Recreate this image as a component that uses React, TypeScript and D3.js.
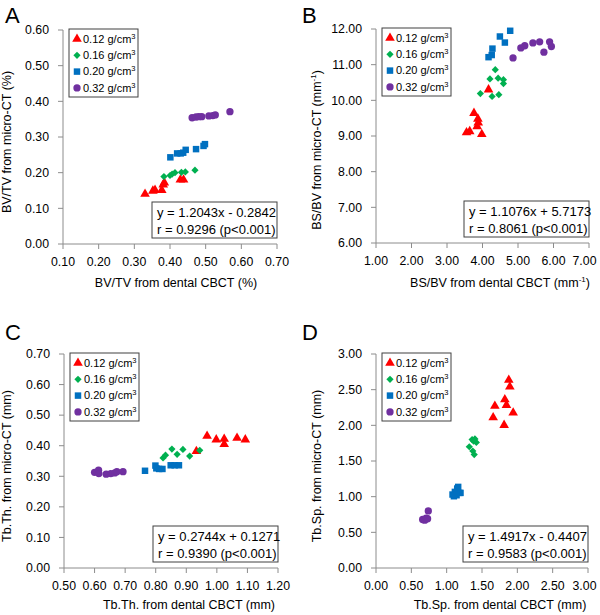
import React from "react";
import * as d3 from "d3";

const groupLabels = ["0.12 g/cm", "0.16 g/cm", "0.20 g/cm", "0.32 g/cm"];
const groupColors = ["#ff0000", "#00b050", "#0070c0", "#7030a0"];
const groupShapes = ["triangle", "diamond", "square", "circle"];

// Panel A: BV/TV
const aRed = [[0.330, 0.140], [0.352, 0.149], [0.358, 0.151], [0.377, 0.151], [0.381, 0.166], [0.384, 0.172], [0.429, 0.180], [0.438, 0.180]];
const aGreen = [[0.383, 0.189], [0.400, 0.192], [0.406, 0.196], [0.414, 0.200], [0.432, 0.201], [0.443, 0.202], [0.470, 0.207]];
const aBlue = [[0.401, 0.243], [0.420, 0.254], [0.430, 0.254], [0.437, 0.256], [0.444, 0.264], [0.473, 0.266], [0.494, 0.275], [0.498, 0.280]];
const aPurple = [[0.462, 0.354], [0.473, 0.356], [0.481, 0.357], [0.489, 0.357], [0.509, 0.359], [0.520, 0.360], [0.527, 0.362], [0.568, 0.371]];

// Panel B: BS/BV
const bRed = [[3.76, 9.64], [3.87, 9.48], [3.88, 9.37], [3.85, 9.27], [3.55, 9.10], [3.64, 9.13], [3.98, 9.05], [4.17, 10.30]];
const bGreen = [[3.94, 10.19], [4.21, 10.60], [4.36, 10.86], [4.44, 10.62], [4.59, 10.58], [4.59, 10.47], [4.27, 10.11], [4.46, 10.16]];
const bBlue = [[4.78, 11.95], [4.49, 11.79], [4.63, 11.62], [4.28, 11.45], [4.26, 11.27], [4.17, 11.21]];
const bPurple = [[4.86, 11.19], [5.08, 11.47], [5.19, 11.53], [5.42, 11.61], [5.61, 11.64], [5.73, 11.35], [5.89, 11.64], [5.94, 11.51]];

// Panel C: Tb.Th.
const cRed = [[0.933, 0.382], [0.968, 0.432], [0.998, 0.420], [1.024, 0.422], [1.024, 0.405], [1.066, 0.425], [1.093, 0.420]];
const cGreen = [[0.824, 0.360], [0.832, 0.369], [0.853, 0.389], [0.870, 0.372], [0.889, 0.388], [0.911, 0.366], [0.944, 0.385]];
const cBlue = [[0.765, 0.318], [0.799, 0.335], [0.802, 0.326], [0.811, 0.324], [0.822, 0.324], [0.849, 0.336], [0.862, 0.336], [0.876, 0.336]];
const cPurple = [[0.600, 0.313], [0.613, 0.320], [0.614, 0.309], [0.638, 0.307], [0.653, 0.309], [0.666, 0.311], [0.673, 0.315], [0.693, 0.315]];

// Panel D: Tb.Sp.
const dRed = [[1.879, 2.635], [1.894, 2.541], [1.682, 2.270], [1.823, 2.363], [1.846, 2.283], [1.941, 2.176], [1.658, 2.110], [1.813, 2.003]];
const dGreen = [[1.32, 1.70], [1.36, 1.80], [1.40, 1.81], [1.42, 1.76], [1.37, 1.64], [1.39, 1.59], [1.38, 1.78]];
const dBlue = [[1.083, 1.03], [1.116, 1.067], [1.149, 1.114], [1.178, 1.053], [1.196, 1.053], [1.102, 1.006], [1.140, 1.02], [1.163, 1.137]];
const dPurple = [[0.66, 0.68], [0.69, 0.67], [0.71, 0.70], [0.73, 0.69], [0.74, 0.80]];

const aXTicks = [0.1, 0.2, 0.3, 0.4, 0.5, 0.6, 0.7];
const aYTicks = [0, 0.1, 0.2, 0.3, 0.4, 0.5, 0.6];
const bXTicks = [1, 2, 3, 4, 5, 6, 7];
const bYTicks = [6, 7, 8, 9, 10, 11, 12];
const cXTicks = [0.5, 0.6, 0.7, 0.8, 0.9, 1.0, 1.1, 1.2];
const cYTicks = [0, 0.1, 0.2, 0.3, 0.4, 0.5, 0.6, 0.7];
const dXTicks = [0, 0.5, 1, 1.5, 2, 2.5, 3];
const dYTicks = [0, 0.5, 1, 1.5, 2, 2.5, 3];

const panels = [
  {
    letter: "A", series: [aRed, aGreen, aBlue, aPurple], xTicks: aXTicks, yTicks: aYTicks,
    xTitle: "BV/TV from dental CBCT (%)", xSup: "", xTail: "", yTitle: "BV/TV from micro-CT (%)", ySup: "", yTail: "",
    eq: "y = 1.2043x - 0.2842", r: "r = 0.9296 (p<0.001)",
    left: 63, top: 30, w: 214, h: 214, letterX: 5, letterY: 23,
    xTitleX: 176, xTitleY: 287, yTitleX: 11, yTitleY: 142,
  },
  {
    letter: "B", series: [bRed, bGreen, bBlue, bPurple], xTicks: bXTicks, yTicks: bYTicks,
    xTitle: "BS/BV from dental CBCT (mm", xSup: "-1", xTail: ")", yTitle: "BS/BV from micro-CT (mm", ySup: "-1", yTail: ")",
    eq: "y = 1.1076x + 5.7173", r: "r = 0.8061 (p<0.001)",
    left: 376, top: 29, w: 213, h: 214, letterX: 302, letterY: 23,
    xTitleX: 500, xTitleY: 287, yTitleX: 321, yTitleY: 150,
  },
  {
    letter: "C", series: [cRed, cGreen, cBlue, cPurple], xTicks: cXTicks, yTicks: cYTicks,
    xTitle: "Tb.Th. from dental CBCT (mm)", xSup: "", xTail: "", yTitle: "Tb.Th. from micro-CT (mm)", ySup: "", yTail: "",
    eq: "y = 0.2744x + 0.1271", r: "r = 0.9390 (p<0.001)",
    left: 64, top: 354, w: 214, h: 214, letterX: 5, letterY: 340,
    xTitleX: 189, xTitleY: 609, yTitleX: 11, yTitleY: 466,
  },
  {
    letter: "D", series: [dRed, dGreen, dBlue, dPurple], xTicks: dXTicks, yTicks: dYTicks,
    xTitle: "Tb.Sp. from dental CBCT (mm)", xSup: "", xTail: "", yTitle: "Tb.Sp. from micro-CT (mm)", ySup: "", yTail: "",
    eq: "y = 1.4917x - 0.4407", r: "r = 0.9583 (p<0.001)",
    left: 376, top: 354, w: 212, h: 214, letterX: 302, letterY: 340,
    xTitleX: 500, xTitleY: 609, yTitleX: 321, yTitleY: 466,
  },
];

const FONT = "'Liberation Sans', Arial, sans-serif";
const AXIS = "#8c8c8c";
const fmt = d3.format(".2f");
const TICK_FS = 12.3;

function Marker({ shape, x, y, color }: { shape: string; x: number; y: number; color: string }) {
  let path = "";
  let rot = 0;
  if (shape === "triangle") path = d3.symbol().type(d3.symbolTriangle).size(40)()!;
  else if (shape === "diamond") { path = d3.symbol().type(d3.symbolSquare).size(26)()!; rot = 45; }
  else if (shape === "square") path = d3.symbol().type(d3.symbolSquare).size(42)()!;
  else path = d3.symbol().type(d3.symbolCircle).size(42)()!;
  return <path d={path} fill={color} transform={`translate(${x},${y}) rotate(${rot})`} />;
}

function Panel({ p }: { p: (typeof panels)[number] }) {
  const xs = d3.scaleLinear().domain([p.xTicks[0], p.xTicks[p.xTicks.length - 1]]).range([p.left, p.left + p.w]);
  const ys = d3.scaleLinear().domain([p.yTicks[0], p.yTicks[p.yTicks.length - 1]]).range([p.top + p.h, p.top]);
  const bottom = p.top + p.h;
  const right = p.left + p.w;
  const legL = p.left + 6;
  const legT = p.top - 1;
  const statL = right - 125;
  const statT = bottom - 42;
  const halfLabel = 12.5;
  return (
    <g fontFamily={FONT}>
      <text x={p.letterX} y={p.letterY} fontSize={22} fill="#000">{p.letter}</text>
      {/* axes */}
      <line x1={p.left} x2={p.left} y1={p.top} y2={bottom} stroke={AXIS} strokeWidth={1} />
      <line x1={p.left} x2={right} y1={bottom} y2={bottom} stroke={AXIS} strokeWidth={1} />
      {p.yTicks.map((t, i) => (
        <g key={"y" + i}>
          <line x1={p.left - 5} x2={p.left} y1={ys(t)} y2={ys(t)} stroke={AXIS} />
          <text x={p.left - 14} y={ys(t)} dy="0.35em" textAnchor="end" fontSize={TICK_FS} fill="#000">{fmt(t)}</text>
        </g>
      ))}
      {p.xTicks.map((t, i) => (
        <g key={"x" + i}>
          <line x1={xs(t)} x2={xs(t)} y1={bottom} y2={bottom + 5} stroke={AXIS} />
          <text x={Math.min(xs(t), 597 - halfLabel)} y={bottom + 18} dy="0.35em" textAnchor="middle" fontSize={TICK_FS} fill="#000">{fmt(t)}</text>
        </g>
      ))}
      {/* axis titles */}
      <text x={p.xTitleX} y={p.xTitleY} textAnchor="middle" fontSize={12.5} fill="#000">
        {p.xTitle}
        {p.xSup && <tspan fontSize={8} dy={-5}>{p.xSup}</tspan>}
        {p.xTail && <tspan dy={p.xSup ? 5 : 0}>{p.xTail}</tspan>}
      </text>
      <text transform={`translate(${p.yTitleX},${p.yTitleY}) rotate(-90)`} textAnchor="middle" fontSize={12.5} fill="#000">
        {p.yTitle}
        {p.ySup && <tspan fontSize={8} dy={-5}>{p.ySup}</tspan>}
        {p.yTail && <tspan dy={p.ySup ? 5 : 0}>{p.yTail}</tspan>}
      </text>
      {/* points */}
      {p.series.map((s, si) => (
        <g key={"s" + si}>
          {s.map((d, di) => (
            <Marker key={di} shape={groupShapes[si]} x={xs(d[0])} y={ys(d[1])} color={groupColors[si]} />
          ))}
        </g>
      ))}
      {/* legend */}
      <rect x={legL} y={legT} width={69} height={68} fill="#fff" stroke="#404040" strokeWidth={1} />
      {groupLabels.map((g, i) => (
        <g key={"l" + i}>
          <Marker shape={groupShapes[i]} x={legL + 8} y={legT + 10 + i * 16.3} color={groupColors[i]} />
          <text x={legL + 14} y={legT + 10 + i * 16.3} dy="0.35em" fontSize={11} fill="#000">
            {g}<tspan fontSize={7.5} dy={-4}>3</tspan>
          </text>
        </g>
      ))}
      {/* stats box */}
      <rect x={statL} y={statT} width={125} height={36} fill="#fff" stroke="#404040" strokeWidth={1} />
      <text x={statL + 5} y={statT + 10} dy="0.35em" fontSize={13} fill="#000">{p.eq}</text>
      <text x={statL + 5} y={statT + 27} dy="0.35em" fontSize={13} fill="#000">{p.r}</text>
    </g>
  );
}

export default function App() {
  return (
    <svg width={600} height={615} style={{ position: "absolute", left: 0, top: 0, background: "#fff" }}>
      <rect width={600} height={615} fill="#fff" />
      {panels.map((p) => (
        <Panel key={p.letter} p={p} />
      ))}
    </svg>
  );
}
